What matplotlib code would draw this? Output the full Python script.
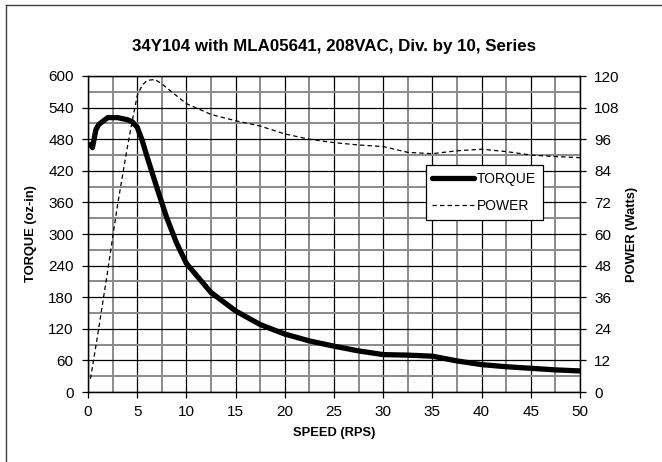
import matplotlib
matplotlib.use("Agg")
import matplotlib.pyplot as plt
from matplotlib.lines import Line2D
import numpy as np

plt.rcParams['font.family'] = ['Liberation Sans', 'DejaVu Sans']

title = "34Y104 with MLA05641, 208VAC, Div. by 10, Series"

torque_speed = [0.25, 0.45, 0.8, 1.1, 2, 3, 4, 4.5, 5, 5.5, 6, 7, 8, 9, 10,
                12.5, 15, 17.5, 20, 22.5, 25, 27.5, 30, 32.5, 35, 37.5, 40,
                42.5, 45, 47.5, 50]
torque = [470, 464, 498, 508, 521, 521, 517, 513, 503, 478, 447, 388, 331,
          283, 244, 189, 154, 128, 110, 97, 87, 78, 71, 70, 68, 59, 52, 48,
          45, 42, 40]

power_speed = [0.25, 1, 2, 3, 4, 4.5, 5, 5.5, 6, 6.8, 7.5, 8.5, 10, 12.5, 15,
               17.5, 20, 22.5, 25, 27.5, 30, 32.5, 35, 37.5, 40, 42.5, 45,
               47.5, 50]
power = [5, 22, 46, 71, 93, 103, 112.5, 116.5, 118.3, 118.7, 117, 114, 109.5,
         105.4, 103, 101, 98, 96, 94.7, 93.8, 93.2, 91, 90.5, 91.6, 92.2,
         91.3, 90, 89.4, 89]

x_ticks = [0, 5, 10, 15, 20, 25, 30, 35, 40, 45, 50]
torque_ticks = [0, 60, 120, 180, 240, 300, 360, 420, 480, 540, 600]
power_ticks = [0, 12, 24, 36, 48, 60, 72, 84, 96, 108, 120]

W, H = 662, 462
fig = plt.figure(figsize=(W / 100, H / 100), dpi=100)
ax = fig.add_axes([88 / W, 1 - 392 / H, (580 - 88) / W, (392 - 76) / H])
ax2 = ax.twinx()

# grid
ax.set_xticks(np.arange(0, 50.01, 2.5), minor=True)
ax.set_yticks(np.arange(0, 600.01, 30), minor=True)
ax.grid(which='minor', color='#8a8a8a', lw=1.4, zorder=0)
ax.grid(which='major', color='black', lw=0.9, zorder=0)
ax.set_axisbelow(True)

ax.plot(torque_speed, torque, color='black', lw=3.8, solid_capstyle='round',
        solid_joinstyle='round', zorder=3)
ax2.plot(power_speed, power, color='black', lw=0.9, dashes=(3.5, 2.5), zorder=3)

ax.set_xlim(0, 50)
ax.set_ylim(0, 600)
ax2.set_ylim(0, 120)
ax.set_xticks(x_ticks)
ax.set_yticks(torque_ticks)
ax2.set_yticks(power_ticks)

for a in (ax, ax2):
    a.tick_params(axis='both', which='major', length=4.3, width=0.9,
                  labelsize=11, direction='out', color='black', pad=6)
    a.tick_params(which='minor', length=0)
    for s in a.spines.values():
        s.set_color('black')
        s.set_linewidth(0.9)
ax.tick_params(axis='x', pad=5)

ax.set_xlabel("SPEED (RPS)", fontsize=9.3, fontweight='bold')
ax.set_ylabel("TORQUE (oz-in)", fontsize=9.3, fontweight='bold')
ax2.set_ylabel("POWER (Watts)", fontsize=9.3, fontweight='bold')
ax.xaxis.set_label_coords(0.5, (392 - 427) / 316)
ax.yaxis.set_label_coords((37 - 88) / 492, 0.5)
ax2.yaxis.set_label_coords((626 - 88) / 492, 0.5)

fig.text((88 + 580) / 2 / W, 1 - 46 / H, title, ha='center', va='center',
         fontsize=12.2, fontweight='bold')

handles = [Line2D([], [], color='black', lw=3.8, solid_capstyle='round'),
           Line2D([], [], color='black', lw=0.9, dashes=(3.5, 2.5))]
leg = ax2.legend(handles, ["TORQUE", "POWER"], loc='upper left',
                 bbox_to_anchor=(0.686, 0.718), fontsize=10, frameon=True,
                 fancybox=False, edgecolor='black', framealpha=1,
                 handlelength=3.0, handletextpad=0.2, borderpad=0.5,
                 labelspacing=0.9, borderaxespad=0)
leg.get_frame().set_linewidth(0.9)
leg.set_zorder(10)

# figure border (left and top visible)
fig.add_artist(Line2D([6 / W, 6 / W], [0, 1 - 5 / H], color='#404040', lw=1,
                      transform=fig.transFigure))
fig.add_artist(Line2D([6 / W, 1], [1 - 5 / H, 1 - 5 / H], color='#404040', lw=1,
                      transform=fig.transFigure))

fig.savefig("out.png", dpi=100)
